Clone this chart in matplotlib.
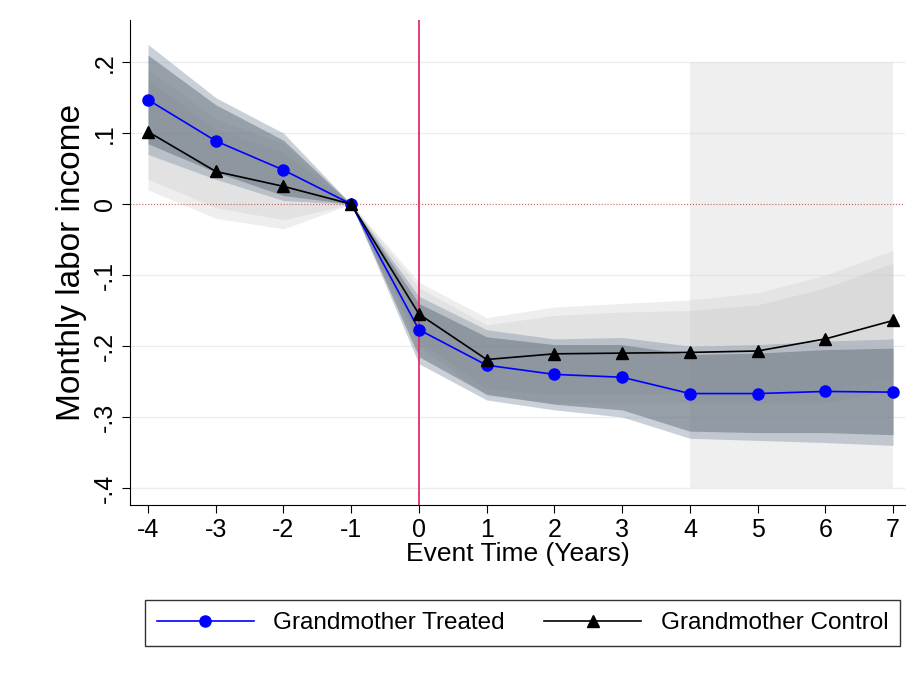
import matplotlib
matplotlib.use("Agg")
import matplotlib.pyplot as plt
import numpy as np

plt.rcParams['font.family'] = ['Liberation Sans', 'DejaVu Sans']

x = [-4,-3,-2,-1,0,1,2,3,4,5,6,7]
treated = [0.147,0.089,0.048,0,-0.177,-0.227,-0.240,-0.244,-0.267,-0.267,-0.264,-0.265]
t_lo95 = [0.070,0.035,0.005,0,-0.225,-0.276,-0.290,-0.300,-0.330,-0.333,-0.336,-0.340]
t_hi95 = [0.225,0.150,0.100,0,-0.130,-0.177,-0.190,-0.188,-0.200,-0.198,-0.193,-0.190]
t_lo90 = [0.085,0.045,0.012,0,-0.215,-0.268,-0.282,-0.290,-0.320,-0.322,-0.322,-0.325]
t_hi90 = [0.210,0.140,0.090,0,-0.140,-0.187,-0.198,-0.198,-0.212,-0.210,-0.205,-0.203]
control = [0.102,0.046,0.025,0,-0.155,-0.219,-0.211,-0.210,-0.209,-0.207,-0.190,-0.164]
c_lo95 = [0.020,-0.020,-0.035,0,-0.200,-0.270,-0.280,-0.280,-0.280,-0.280,-0.280,-0.262]
c_hi95 = [0.190,0.120,0.085,0,-0.110,-0.160,-0.145,-0.140,-0.135,-0.125,-0.100,-0.065]
c_lo90 = [0.035,-0.005,-0.022,0,-0.192,-0.260,-0.268,-0.268,-0.266,-0.265,-0.262,-0.245]
c_hi90 = [0.175,0.105,0.073,0,-0.118,-0.170,-0.157,-0.152,-0.150,-0.142,-0.118,-0.083]

fig = plt.figure(figsize=(9.2,6.76), dpi=100)
ax = fig.add_axes([0.141, 0.253, 0.843, 0.718])
ax.set_xlim(-4.27, 7.18)
ax.set_ylim(-0.424, 0.26)

for y in [-0.4,-0.3,-0.2,-0.1,0.1,0.2]:
    ax.axhline(y, color="#e8eef2", lw=1, zorder=0)
ax.fill_between([4,7],[-0.4,-0.4],[0.2,0.2], color="#d9d9d9", alpha=0.4, lw=0, zorder=0.5)
ax.fill_between(x, c_lo95, c_hi95, color="#d0d0d0", alpha=0.35, lw=0, zorder=1)
ax.fill_between(x, c_lo90, c_hi90, color="#c0c0c0", alpha=0.25, lw=0, zorder=1)
ax.fill_between(x, t_lo95, t_hi95, color="#8898aa", alpha=0.45, lw=0, zorder=1.2)
ax.fill_between(x, t_lo90, t_hi90, color="#5a6470", alpha=0.45, lw=0, zorder=1.3)
ax.axhline(0, color="#c06060", lw=0.8, ls=":", zorder=2)
ax.axvline(0, color="#e0306a", lw=1.3, zorder=2)
ax.plot(x, treated, color="blue", marker="o", ms=8, lw=1.2, label="Grandmother Treated", zorder=3)
ax.plot(x, control, color="black", marker="^", ms=8, lw=1.2, label="Grandmother Control", zorder=3)

ax.set_xticks(x)
ax.set_xticklabels([str(v) for v in x])
ax.set_yticks([-0.4,-0.3,-0.2,-0.1,0,0.1,0.2])
ax.set_yticklabels(["-.4","-.3","-.2","-.1","0",".1",".2"], rotation=90, va="center")
ax.tick_params(labelsize=18, length=6)
for s in ["top","right"]:
    ax.spines[s].set_visible(False)
ax.set_xlabel("Event Time (Years)", fontsize=19, labelpad=0)
ax.set_ylabel("Monthly labor income", fontsize=24, labelpad=4)
fig.legend(*ax.get_legend_handles_labels(), loc="center", bbox_to_anchor=(0.568, 0.078),
           ncol=2, fontsize=17.5, frameon=True, fancybox=False, edgecolor="black",
           handlelength=4, columnspacing=1.6, borderpad=0.5)
fig.savefig("out.png", dpi=100, facecolor="white")
